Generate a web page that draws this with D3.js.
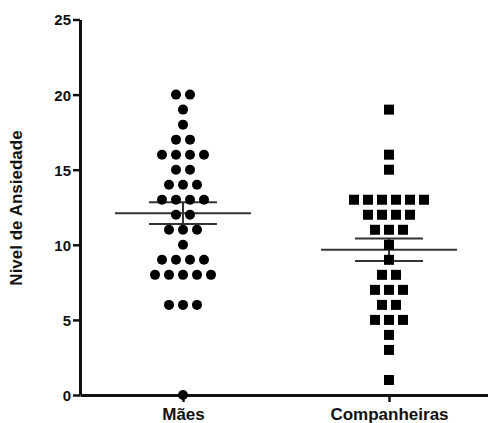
<!DOCTYPE html>
<html>
<head>
<meta charset="utf-8">
<script src="https://cdn.jsdelivr.net/npm/d3@7.9.0/dist/d3.min.js"></script>
<style>
  body { margin: 0; background: #fff; }
  svg text { font-family: "Liberation Sans", Arial, sans-serif; font-weight: 700; fill: #111; }
</style>
</head>
<body>
<svg width="488" height="423"></svg>
<script>
// categories and the individual values
const categories = ['Mães', 'Companheiras'];
const maesValues = [20, 20, 19, 18, 17, 17, 16, 16, 16, 16, 15, 15, 14, 14, 14,
  13, 13, 13, 13, 12, 12, 11, 11, 11, 10, 9, 9, 9, 9, 8, 8, 8, 8, 8, 6, 6, 6, 0];
const companheirasValues = [19, 16, 15, 13, 13, 13, 13, 13, 13, 12, 12, 12, 12,
  11, 11, 11, 10, 9, 8, 8, 7, 7, 7, 6, 6, 5, 5, 5, 4, 3, 1];
const yTicks = [0, 5, 10, 15, 20, 25];

const svg = d3.select('svg');

const y = d3.scaleLinear().domain([0, 25]).range([395, 19.5]);
const x = d3.scalePoint().domain(categories).range([80, 492]).padding(0.5);

// y axis
const yAxis = svg.append('g')
  .attr('transform', 'translate(80,0)')
  .call(d3.axisLeft(y).tickValues(yTicks).tickSize(7).tickPadding(2).tickSizeOuter(0));
yAxis.select('.domain').attr('stroke', '#111').attr('stroke-width', 3);
yAxis.selectAll('.tick line').attr('stroke', '#111').attr('stroke-width', 2.5);
yAxis.selectAll('.tick text').attr('font-size', 15).attr('font-weight', 700).attr('dy', '0.36em');

// x axis
const xAxis = svg.append('g')
  .attr('transform', 'translate(0,395)')
  .call(d3.axisBottom(x).tickSize(7).tickPadding(6).tickSizeOuter(0));
xAxis.select('.domain').attr('stroke', '#111').attr('stroke-width', 3);
xAxis.selectAll('.tick line').attr('stroke', '#111').attr('stroke-width', 2.5);
xAxis.selectAll('.tick text').attr('font-size', 17).attr('font-weight', 700).attr('dy', '0.71em');

// y label
svg.append('text')
  .attr('transform', 'translate(22,208) rotate(-90)')
  .attr('text-anchor', 'middle')
  .attr('font-size', 17)
  .attr('font-weight', 700)
  .text('Nivel de Ansiedade');

const groups = [
  { name: categories[0], values: maesValues, shape: 'circle' },
  { name: categories[1], values: companheirasValues, shape: 'square' }
];

const gap = 14; // horizontal spacing of stacked points

groups.forEach(grp => {
  const cx = x(grp.name);
  const mean = d3.mean(grp.values);
  const sem = d3.deviation(grp.values) / Math.sqrt(grp.values.length);

  // stack equal values side by side
  const counts = d3.rollup(grp.values, v => v.length, d => d);
  const seen = new Map();
  const pts = grp.values.map(v => {
    const n = counts.get(v);
    const i = seen.get(v) || 0;
    seen.set(v, i + 1);
    return { v, dx: (i - (n - 1) / 2) * gap };
  });

  const g = svg.append('g');

  // error bar: mean line, SEM caps, vertical link
  g.append('line')
    .attr('x1', cx).attr('x2', cx)
    .attr('y1', y(mean + sem)).attr('y2', y(mean - sem))
    .attr('stroke', '#333').attr('stroke-width', 2);
  g.append('line')
    .attr('x1', cx - 68).attr('x2', cx + 68)
    .attr('y1', y(mean)).attr('y2', y(mean))
    .attr('stroke', '#333').attr('stroke-width', 2);
  [mean + sem, mean - sem].forEach(v => {
    g.append('line')
      .attr('x1', cx - 34).attr('x2', cx + 34)
      .attr('y1', y(v)).attr('y2', y(v))
      .attr('stroke', '#333').attr('stroke-width', 2);
  });

  if (grp.shape === 'circle') {
    g.selectAll('circle').data(pts).join('circle')
      .attr('cx', d => cx + d.dx)
      .attr('cy', d => y(d.v))
      .attr('r', 5)
      .attr('fill', '#000');
  } else {
    g.selectAll('rect').data(pts).join('rect')
      .attr('x', d => cx + d.dx - 5)
      .attr('y', d => y(d.v) - 5)
      .attr('width', 10)
      .attr('height', 10)
      .attr('fill', '#000');
  }
});
</script>
</body>
</html>
